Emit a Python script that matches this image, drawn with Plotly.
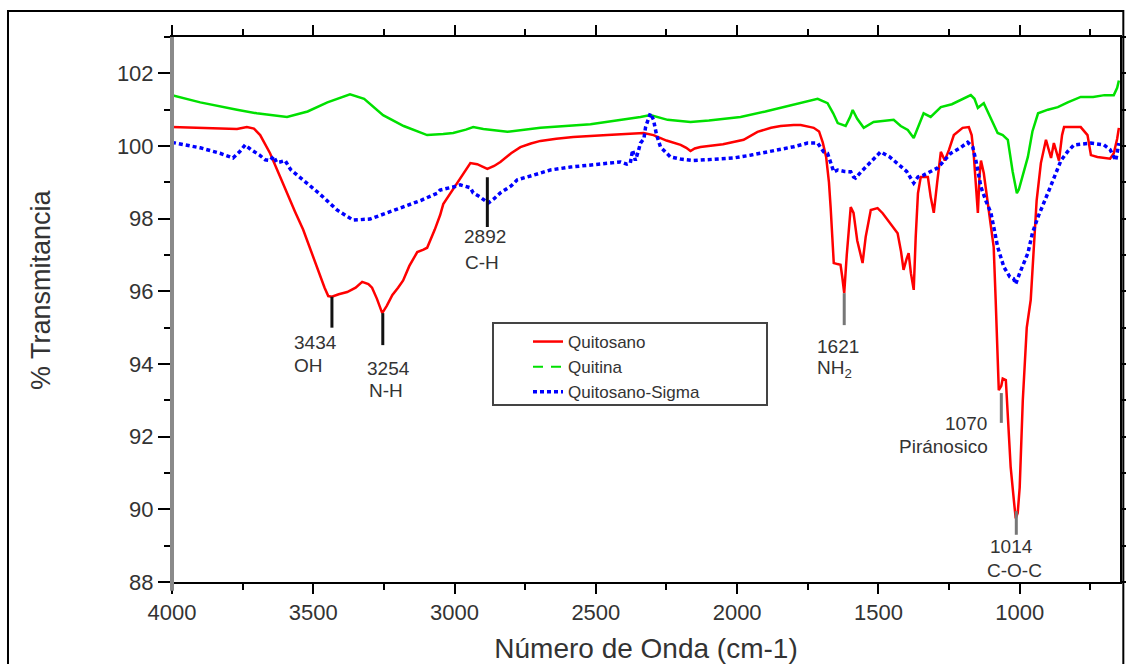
import plotly.graph_objects as go

# ---------------- data ----------------
quitosano_wn = [4000, 3850, 3770, 3735, 3710, 3688, 3653, 3620, 3593, 3565, 3536, 3510, 3486, 3460,
                3447, 3434, 3410, 3380, 3350, 3327, 3305, 3292, 3275, 3256, 3240, 3220, 3200, 3182,
                3160, 3132, 3110, 3097, 3070, 3051, 3040, 3010, 2990, 2965, 2944, 2920, 2900, 2884,
                2860, 2838, 2800, 2767, 2730, 2696, 2640, 2580, 2459, 2331, 2296, 2250, 2200, 2180,
                2165, 2150, 2130, 2050, 1977, 1950, 1928, 1880, 1846, 1800, 1775, 1740, 1729, 1710,
                1697, 1685, 1675, 1669, 1663, 1658, 1645, 1634, 1628, 1621, 1612, 1598, 1588, 1575,
                1556, 1545, 1527, 1503, 1485, 1467, 1450, 1432, 1420, 1411, 1400, 1393, 1385, 1375,
                1368, 1360, 1350, 1325, 1315, 1304, 1292, 1279, 1265, 1250, 1233, 1202, 1180, 1170,
                1163, 1155, 1148, 1142, 1137, 1127, 1110, 1092, 1085, 1074, 1065, 1060, 1049, 1040,
                1032, 1020, 1014, 1007, 1000, 989, 975, 961, 950, 940, 925, 907, 889, 879, 861, 850,
                843, 784, 760, 748, 725, 702, 680, 667, 655, 649]
quitosano_t = [100.52, 100.50, 100.47, 100.52, 100.48, 100.30, 99.80, 99.20, 98.70, 98.20, 97.70, 97.15,
               96.60, 96.10, 95.87, 95.85, 95.92, 95.98, 96.10, 96.26, 96.20, 96.10, 95.80, 95.40,
               95.60, 95.90, 96.10, 96.30, 96.70, 97.08, 97.15, 97.20, 97.70, 98.10, 98.40, 98.75,
               98.98, 99.30, 99.53, 99.50, 99.42, 99.37, 99.45, 99.56, 99.80, 99.97, 100.07, 100.14,
               100.20, 100.25, 100.30, 100.36, 100.30, 100.15, 100.03, 99.95, 99.86, 99.93, 99.97,
               100.05, 100.17, 100.28, 100.39, 100.50, 100.55, 100.58, 100.58, 100.52, 100.50, 100.40,
               100.10, 99.70, 99.00, 98.30, 97.50, 96.78, 96.75, 96.73, 96.40, 95.95, 97.00, 98.32,
               98.16, 97.40, 96.78, 97.50, 98.24, 98.29, 98.15, 97.96, 97.80, 97.60, 97.10, 96.59,
               96.90, 97.05, 96.50, 96.04, 97.50, 98.70, 99.15, 99.15, 98.60, 98.16, 99.00, 99.84,
               99.60, 99.90, 100.30, 100.50, 100.52, 100.30, 99.80, 98.80, 98.16, 99.20, 99.60, 99.25,
               98.30, 97.22, 95.76, 93.28, 93.40, 93.60, 93.56, 92.30, 91.17, 90.20, 89.75, 89.90,
               90.60, 93.00, 95.00, 95.76, 97.05, 98.50, 99.53, 100.17, 99.67, 100.08, 99.60, 100.30,
               100.52, 100.52, 100.30, 99.75, 99.70, 99.67, 99.65, 99.80, 100.20, 100.50]

quitina_wn = [4000, 3900, 3770, 3700, 3593, 3520, 3450, 3370, 3320, 3253, 3180, 3097, 3040, 3005, 2960,
              2934, 2898, 2813, 2696, 2519, 2342, 2307, 2246, 2165, 2100, 1988, 1900, 1836, 1760, 1715,
              1680, 1660, 1644, 1616, 1600, 1591, 1575, 1552, 1517, 1480, 1446, 1421, 1396, 1375, 1355,
              1340, 1315, 1279, 1240, 1209, 1173, 1160, 1148, 1127, 1100, 1078, 1060, 1042, 1025, 1010,
              1003, 990, 971, 955, 935, 900, 865, 830, 784, 740, 700, 667, 655, 649]
quitina_t = [101.40, 101.20, 101.00, 100.90, 100.80, 100.95, 101.20, 101.42, 101.30, 100.85, 100.55,
             100.30, 100.33, 100.36, 100.45, 100.52, 100.47, 100.39, 100.50, 100.60, 100.80, 100.85,
             100.72, 100.66, 100.70, 100.80, 100.95, 101.07, 101.20, 101.30, 101.18, 100.90, 100.63,
             100.55, 100.80, 100.99, 100.75, 100.50, 100.66, 100.70, 100.72, 100.55, 100.44, 100.22,
             100.60, 100.90, 100.80, 101.07, 101.15, 101.27, 101.40, 101.30, 101.05, 101.18, 100.75,
             100.36, 100.30, 100.17, 99.30, 98.70, 98.80, 99.20, 99.70, 100.40, 100.90, 101.00,
             101.07, 101.20, 101.35, 101.35, 101.40, 101.40, 101.60, 101.80]

sigma_wn = [4000, 3900, 3830, 3784, 3760, 3741, 3720, 3690, 3670, 3653, 3640, 3630, 3617, 3600, 3580,
            3536, 3480, 3416, 3359, 3299, 3240, 3182, 3120, 3061, 3051, 2990, 2980, 2944, 2934, 2910,
            2881, 2860, 2838, 2800, 2778, 2720, 2661, 2590, 2519, 2413, 2390, 2378, 2370, 2360, 2350,
            2342, 2330, 2324, 2307, 2296, 2285, 2271, 2236, 2200, 2154, 2080, 2013, 1950, 1892, 1846,
            1800, 1751, 1715, 1694, 1680, 1658, 1644, 1620, 1598, 1588, 1581, 1560, 1520, 1492, 1460,
            1421, 1400, 1375, 1360, 1340, 1290, 1244, 1210, 1184, 1166, 1155, 1148, 1137, 1120, 1102,
            1090, 1078, 1056, 1035, 1022, 1014, 1000, 985, 971, 955, 935, 900, 880, 854, 830, 808,
            748, 702, 680, 660, 649]
sigma_t = [100.10, 99.95, 99.80, 99.67, 99.85, 100.03, 99.90, 99.75, 99.62, 99.60, 99.72, 99.55, 99.56,
           99.60, 99.35, 99.07, 98.70, 98.24, 97.96, 97.99, 98.15, 98.32, 98.50, 98.70, 98.79, 98.90,
           98.93, 98.85, 98.71, 98.60, 98.43, 98.55, 98.71, 98.90, 99.07, 99.20, 99.34, 99.42, 99.48,
           99.56, 99.50, 99.53, 99.89, 99.60, 99.85, 100.08, 100.20, 100.52, 100.90, 100.72, 100.30,
           99.97, 99.70, 99.64, 99.60, 99.63, 99.67, 99.75, 99.84, 99.89, 99.98, 100.08, 100.08, 99.84,
           99.80, 99.29, 99.34, 99.30, 99.29, 99.15, 99.12, 99.30, 99.60, 99.84, 99.70, 99.45, 99.30,
           98.98, 99.15, 99.20, 99.40, 99.80, 99.95, 100.10, 99.97, 99.60, 99.34, 98.87, 98.50, 98.16,
           97.70, 97.22, 96.67, 96.40, 96.35, 96.20, 96.50, 96.80, 97.05, 97.60, 98.05, 98.71, 99.10,
           99.60, 99.85, 100.03, 100.08, 100.03, 99.90, 99.60, 100.08]

series_names = ["Quitosano", "Quitina", "Quitosano-Sigma"]

x_ticks = [4000, 3500, 3000, 2500, 2000, 1500, 1000]
y_ticks = [88, 90, 92, 94, 96, 98, 100, 102]

# band labels: (wavenumber, top of marker, bottom of marker, number, group)
bands = [
    (3434, 95.85, 95.00, "3434", "OH"),
    (3254, 95.40, 94.52, "3254", "N-H"),
    (2884, 99.14, 97.77, "2892", "C-H"),
    (1621, 95.95, 95.07, "1621", "NH<sub>2</sub>"),
    (1065, 93.20, 92.38, "1070", "Piránosico"),
    (1012, 89.95, 89.30, "1014", "C-O-C"),
]

# ---------------- figure ----------------
FONT = "Liberation Sans, Arial, sans-serif"
TXT = "#333333"
fig = go.Figure()

fig.add_trace(go.Scatter(x=quitina_wn, y=quitina_t, mode="lines", name=series_names[1],
                         line=dict(color="#00e000", width=2.5), showlegend=False))
fig.add_trace(go.Scatter(x=quitosano_wn, y=quitosano_t, mode="lines", name=series_names[0],
                         line=dict(color="#ff0000", width=2.5), legendrank=1))
fig.add_trace(go.Scatter(x=sigma_wn, y=sigma_t, mode="lines", name=series_names[2],
                         line=dict(color="#0000ff", width=3.5, dash="4px,3px"), legendrank=3))
# legend-only entry for the dashed Quitina style
fig.add_trace(go.Scatter(x=[None], y=[None], mode="lines", name=series_names[1],
                         line=dict(color="#00e000", width=2, dash="10px,8px"), legendrank=2))

shapes = []
annotations = []
label_pos = {
    "3434": (3575, 94.60, 3575, 93.97),
    "3254": (3317, 93.89, 3310, 93.28),
    "2892": (2974, 97.50, 2970, 96.78),
    "1621": (1725, 94.47, 1725, 93.86),
    "1070": (1272, 92.35, 1435, 91.72),
    "1014": (1112, 88.99, 1123, 88.33),
}
for wn, y0, y1, num, grp in bands:
    col = "#111111" if num in ("3434", "3254", "2892") else "#777777"
    shapes.append(dict(type="line", xref="x", yref="y", x0=wn, x1=wn, y0=y0, y1=y1,
                       line=dict(color=col, width=3), layer="above"))
    nx, ny, gx, gy = label_pos[num]
    annotations.append(dict(x=nx, y=ny, xref="x", yref="y", text=num, showarrow=False,
                            xanchor="left", yanchor="middle",
                            font=dict(family=FONT, size=19, color=TXT)))
    annotations.append(dict(x=gx, y=gy, xref="x", yref="y", text=grp, showarrow=False,
                            xanchor="left", yanchor="middle",
                            font=dict(family=FONT, size=19, color=TXT)))

# y axis title (placed as in the reference, slightly above centre)
annotations.append(dict(x=-0.138, y=0.536, xref="paper", yref="paper", text="% Transmitancia",
                        textangle=-90, showarrow=False, xanchor="center", yanchor="middle",
                        font=dict(family=FONT, size=27, color=TXT)))

# legend box
shapes.append(dict(type="rect", xref="paper", yref="paper",
                   x0=(493 - 172) / 948, x1=(767 - 172) / 948,
                   y0=(582 - 405) / 545, y1=(582 - 323) / 545,
                   line=dict(color="#444444", width=2), fillcolor="white", layer="above"))
# grey left axis line
shapes.append(dict(type="line", xref="paper", yref="paper", x0=0, x1=0, y0=-0.016, y1=1.0,
                   line=dict(color="#8a8a8a", width=4), layer="above"))
# outer frame
shapes.append(dict(type="rect", xref="paper", yref="paper", x0=-0.173, x1=1.0035, y0=-0.2, y1=1.0477,
                   line=dict(color="black", width=2), fillcolor="rgba(0,0,0,0)", layer="above"))

fig.update_layout(
    width=1126, height=664, autosize=False,
    margin=dict(l=172, r=6, t=37, b=82, autoexpand=False),
    paper_bgcolor="white", plot_bgcolor="white",
    font=dict(family=FONT, color=TXT),
    shapes=shapes, annotations=annotations,
    legend=dict(x=(528 - 172) / 948, y=(582 - 324) / 545, xanchor="left", yanchor="top",
                borderwidth=0, bgcolor="rgba(0,0,0,0)",
                font=dict(family=FONT, size=17, color=TXT),
                tracegroupgap=0, traceorder="normal"),
    xaxis=dict(range=[4000, 645], tickvals=x_ticks, ticktext=[str(v) for v in x_ticks],
               automargin=False,
               showline=True, linecolor="black", linewidth=2, mirror="allticks",
               ticks="outside", ticklen=10, tickwidth=2, tickcolor="black",
               minor=dict(dtick=250, tick0=0, ticks="outside", ticklen=6, tickwidth=2, tickcolor="black"),
               showgrid=False, zeroline=False,
               tickfont=dict(family=FONT, size=22, color=TXT),
               title=dict(text="Número de Onda (cm-1)", standoff=16,
                          font=dict(family=FONT, size=28, color=TXT))),
    yaxis=dict(range=[88, 103], tickvals=y_ticks, ticktext=[str(v) for v in y_ticks],
               automargin=False,
               showline=True, linecolor="black", linewidth=2, mirror="allticks",
               ticks="outside", ticklen=12, tickwidth=2, tickcolor="black",
               minor=dict(dtick=1, tick0=0, ticks="outside", ticklen=6, tickwidth=2, tickcolor="black"),
               showgrid=False, zeroline=False,
               tickfont=dict(family=FONT, size=22, color=TXT)),
)

fig.write_html("out.html", config={"responsive": False},
               post_script="document.documentElement.style.overflow='hidden';"
                           "document.body.style.overflow='hidden';document.body.style.margin='0';")
